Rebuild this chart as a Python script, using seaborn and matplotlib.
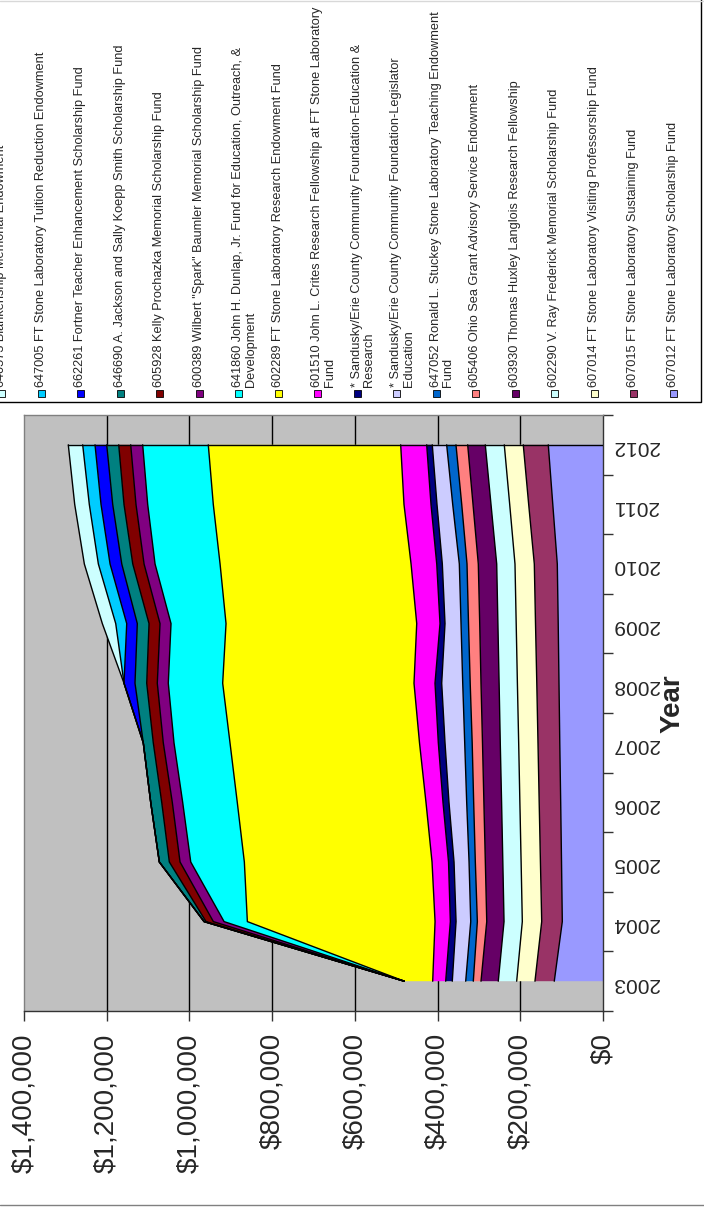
import numpy as np
import matplotlib
matplotlib.use("Agg")
import matplotlib.pyplot as plt
from matplotlib.patches import Rectangle
from matplotlib.ticker import FuncFormatter
import seaborn as sns

# fund balances by year (dollars)
years = [2003, 2004, 2005, 2006, 2007, 2008, 2009, 2010, 2011, 2012]

f607012 = [117800, 98400, 100300, 102300, 104500, 106400, 108300, 110500, 121400, 132300]
f607015 = [46700, 49800, 51000, 52000, 52700, 53700, 54900, 55600, 58300, 60500]
f607014 = [44200, 46900, 46700, 46700, 46700, 46900, 46700, 46700, 45900, 45900]
f602290 = [44500, 44200, 44200, 44200, 44500, 44200, 44200, 44200, 45200, 45900]
f603930 = [41800, 41800, 42300, 42800, 43000, 43800, 44000, 44500, 43500, 42600]
f605406 = [18600, 22700, 24200, 24700, 24900, 26100, 27100, 27300, 27300, 28300]
f647052 = [18400, 16000, 15200, 16900, 18100, 18100, 18100, 18600, 21800, 22500]
sc_legislator = [32400, 35500, 36300, 42800, 47600, 50800, 38700, 41100, 38000, 34800]
sc_education = [16000, 13800, 13300, 14500, 16200, 16200, 12100, 13500, 14500, 13500]
f601510 = [31400, 37000, 39900, 41100, 45500, 50800, 56300, 62100, 65300, 62900]
f602289 = [68700, 453800, 453800, 456300, 458200, 462600, 461100, 461800, 461100, 465200]
f641860 = [0, 56300, 129600, 132000, 135400, 131500, 133000, 157200, 158600, 158600]
f600389 = [0, 25900, 25900, 25100, 25900, 26600, 26600, 26600, 28300, 29000]
f605928 = [0, 17700, 25900, 25600, 24200, 25600, 26600, 27300, 29000, 29000]
f646690 = [0, 4800, 24200, 26600, 24200, 28300, 28300, 26600, 27300, 29000]
f662261 = [0, 0, 0, 0, 0, 26600, 25600, 28300, 28300, 28300]
f647005 = [0, 0, 0, 0, 0, 0, 26600, 28300, 28300, 29800]
f640573 = [0, 0, 0, 0, 0, 0, 32400, 33900, 35300, 34800]

# stacking order, from the $0 side outwards
stack = [
    ("607012 FT Stone Laboratory Scholarship Fund", "#9999FF", f607012),
    ("607015 FT Stone Laboratory Sustaining Fund", "#993366", f607015),
    ("607014 FT Stone Laboratory Visiting Professorship Fund", "#FFFFCC", f607014),
    ("602290 V. Ray Frederick Memorial Scholarship Fund", "#CCFFFF", f602290),
    ("603930 Thomas Huxley Langlois Research Fellowship", "#660066", f603930),
    ("605406 Ohio Sea Grant Advisory Service Endowment", "#FF8080", f605406),
    ("647052 Ronald L. Stuckey Stone Laboratory Teaching Endowment\nFund", "#0066CC", f647052),
    ("* Sandusky/Erie County Community Foundation-Legislator\nEducation", "#CCCCFF", sc_legislator),
    ("* Sandusky/Erie County Community Foundation-Education &\nResearch", "#000080", sc_education),
    ("601510 John L. Crites Research Fellowship at FT Stone Laboratory\nFund", "#FF00FF", f601510),
    ("602289 FT Stone Laboratory Research Endowment Fund", "#FFFF00", f602289),
    ("641860 John H. Dunlap, Jr. Fund for Education, Outreach, &\nDevelopment", "#00FFFF", f641860),
    ("600389 Wilbert \"Spark\" Baumler Memorial Scholarship Fund", "#800080", f600389),
    ("605928 Kelly Prochazka Memorial Scholarship Fund", "#800000", f605928),
    ("646690 A. Jackson and Sally Koepp Smith Scholarship Fund", "#008080", f646690),
    ("662261 Fortner Teacher Enhancement Scholarship Fund", "#0000FF", f662261),
    ("647005 FT Stone Laboratory Tuition Reduction Endowment", "#00CCFF", f647005),
    ("640573 Blankenship Memorial Endowment", "#CCFFFF", f640573),
]

sns.set_style("white")
plt.rcParams["font.family"] = ["Liberation Sans", "DejaVu Sans"]

W, H = 704, 1207
fig = plt.figure(figsize=(W / 100, H / 100), dpi=100)


def fx(x):
    return x / W


def fy(y):
    return 1 - y / H


ax = fig.add_axes([fx(24), fy(1011), (603 - 24) / W, (1011 - 415) / H])
ax.set_facecolor("#C0C0C0")

ypos = np.arange(len(years))
base = np.zeros(len(years))
tops = []
for label, color, vals in stack:
    top = base + np.array(vals, dtype=float)
    ax.fill_betweenx(ypos, base, top, facecolor=color, edgecolor="none", zorder=2)
    tops.append(top)
    base = top

for top in tops:
    sns.lineplot(x=top, y=ypos, orient="y", estimator=None, color="black",
                 lw=1, ax=ax, zorder=3)
ax.plot([tops[-1][-1], 0], [ypos[-1], ypos[-1]], color="black", lw=1, zorder=3)

for v in np.arange(200000, 1400000, 200000):
    ax.axvline(v, color="black", lw=1, zorder=1)

ax.set_xlim(1400000, 0)
ax.set_ylim(-0.5, len(years) - 0.5)
ax.set_xlabel("")
ax.set_ylabel("")

ax.set_xticks(np.arange(0, 1400001, 200000))
ax.xaxis.set_major_formatter(FuncFormatter(lambda v, p: f"${v:,.0f}"))
ax.tick_params(axis="x", labelrotation=90, labelsize=20, length=7, width=1,
               direction="out", pad=9, color="#333333", bottom=True)

ax.yaxis.tick_right()
ax.set_yticks(np.arange(-0.5, len(years)), minor=False)
ax.set_yticklabels([""] * (len(years) + 1), minor=False)
ax.set_yticks(ypos, minor=True)
ax.set_yticklabels([str(y) for y in years], minor=True, rotation=180)
ax.tick_params(axis="y", which="major", length=7, width=1, direction="out",
               right=True, left=False, color="#333333")
ax.tick_params(axis="y", which="minor", length=0, pad=7, labelsize=15,
               right=True, left=False, labelright=True, labelleft=False)

for side in ["left", "top"]:
    ax.spines[side].set_color("#808080")
    ax.spines[side].set_linewidth(1)
for side in ["bottom", "right"]:
    ax.spines[side].set_color("#333333")
    ax.spines[side].set_linewidth(1)

fig.text(fx(673), fy(704), "Year", rotation=90, fontsize=20, fontweight="bold",
         ha="center", va="center")

# legend drawn by hand, entries run left to right with rotated text
fig.patches.append(Rectangle((fx(-5), fy(401.7)), 705.7 / W, 406.7 / H,
                             transform=fig.transFigure, fill=False,
                             edgecolor="black", lw=1))
for i, (label, color, _) in enumerate(reversed(stack)):
    cx = 1.7 + 39.5 * i
    fig.patches.append(Rectangle((fx(cx - 3.3), fy(396.7)), 6.7 / W, 6.7 / H,
                                 transform=fig.transFigure, facecolor=color,
                                 edgecolor="black", lw=0.6))
    fig.text(fx(cx - 6.5), fy(387), label, rotation=90, ha="left", va="bottom",
             fontsize=9.2, linespacing=1.05, multialignment="left")

# chart area border remnants
fig.add_artist(plt.Line2D([0, 1], [fy(1205), fy(1205)], transform=fig.transFigure,
                          color="#808080", lw=1))
fig.add_artist(plt.Line2D([0, 1], [fy(0.5), fy(0.5)], transform=fig.transFigure,
                          color="#D8D8D8", lw=1))

fig.savefig("out.png", dpi=100)
